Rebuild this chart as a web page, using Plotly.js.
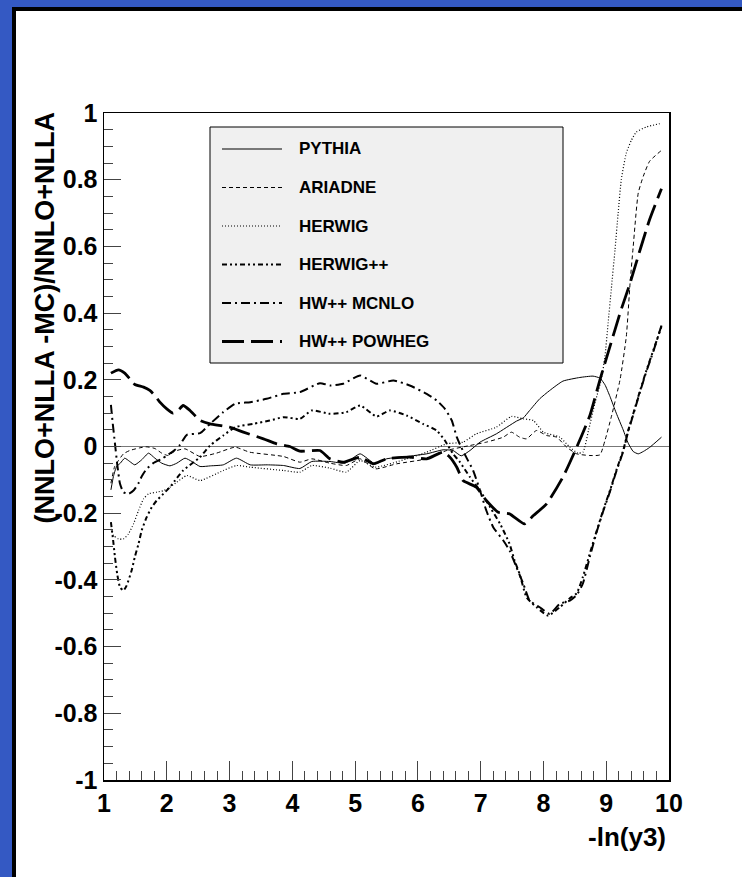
<!DOCTYPE html>
<html>
<head>
<meta charset="utf-8">
<script src="https://cdn.plot.ly/plotly-3.0.1.min.js"></script>
<style>
  html, body { margin: 0; padding: 0; background: #fff; }
  #bg { position: absolute; left: 0; top: 0; width: 742px; height: 877px; background: #3459c3; overflow: hidden; }
  #inner { position: absolute; left: 12px; top: 7px; width: 760px; height: 900px; background: #fff;
           border-left: 4px solid #000; border-top: 4px solid #000; }
  #chart { position: absolute; left: 0; top: 0; width: 742px; height: 877px; }
</style>
</head>
<body>
<div id="bg"><div id="inner"></div></div>
<div id="chart"></div>
<script>
// ---- data ----
const xPythia = [1.11,1.15,1.20,1.26,1.33,1.41,1.49,1.60,1.71,1.81,1.92,2.05,2.16,2.29,2.40,2.53,2.70,2.90,3.11,3.33,3.60,3.86,4.12,4.31,4.60,4.84,5.08,5.32,5.50,5.82,6.14,6.40,6.56,6.69,6.83,6.99,7.25,7.57,7.68,7.78,7.94,8.10,8.31,8.58,8.79,8.90,8.98,9.06,9.16,9.27,9.35,9.43,9.51,9.59,9.69,9.88];
const yPythia = [-0.13,-0.09,-0.06,-0.05,-0.035,-0.045,-0.055,-0.04,-0.02,-0.035,-0.05,-0.058,-0.05,-0.035,-0.045,-0.06,-0.058,-0.055,-0.035,-0.055,-0.055,-0.057,-0.066,-0.045,-0.045,-0.05,-0.022,-0.052,-0.037,-0.03,-0.022,-0.01,-0.012,-0.028,-0.012,0.013,0.038,0.076,0.086,0.108,0.143,0.168,0.196,0.207,0.211,0.205,0.185,0.15,0.10,0.05,0.01,-0.015,-0.022,-0.015,-0.003,0.028];

const xAriadne = [1.11,1.17,1.23,1.31,1.41,1.57,1.68,1.81,1.92,2.02,2.13,2.29,2.53,2.79,3.09,3.32,3.86,4.12,4.31,4.60,4.86,5.08,5.32,5.66,6.14,6.46,6.83,7.09,7.36,7.49,7.62,7.73,7.89,8.05,8.21,8.37,8.53,8.74,8.90,8.98,9.08,9.22,9.32,9.38,9.43,9.51,9.59,9.69,9.88];
const yAriadne = [-0.11,-0.06,-0.042,-0.022,-0.012,-0.004,-0.001,-0.006,-0.02,-0.027,-0.014,-0.007,-0.03,-0.02,-0.002,-0.017,-0.03,-0.047,-0.037,-0.05,-0.057,-0.037,-0.067,-0.052,-0.037,-0.012,0.003,0.013,0.028,0.043,0.028,0.023,0.048,0.033,0.028,-0.002,-0.022,-0.027,-0.025,0.018,0.088,0.20,0.33,0.49,0.60,0.76,0.81,0.855,0.888];

const xHerwig = [1.11,1.15,1.23,1.31,1.39,1.47,1.55,1.63,1.71,1.84,1.95,2.05,2.16,2.32,2.53,2.90,3.11,3.33,3.86,4.12,4.31,4.60,4.86,5.08,5.32,5.82,6.14,6.46,6.72,6.93,7.25,7.49,7.68,7.84,8.00,8.26,8.42,8.55,8.63,8.72,8.82,8.92,8.98,9.03,9.08,9.14,9.19,9.24,9.32,9.40,9.48,9.64,9.85];
const yHerwig = [-0.247,-0.267,-0.277,-0.277,-0.262,-0.232,-0.192,-0.157,-0.142,-0.137,-0.132,-0.122,-0.107,-0.087,-0.102,-0.072,-0.057,-0.062,-0.072,-0.077,-0.057,-0.065,-0.077,-0.042,-0.062,-0.037,-0.017,0.008,0.013,0.038,0.058,0.09,0.083,0.078,0.043,0.028,-0.002,-0.02,-0.017,0.05,0.13,0.20,0.27,0.37,0.47,0.59,0.70,0.80,0.88,0.918,0.943,0.958,0.968];

const xHerwigPP = [1.11,1.14,1.175,1.21,1.255,1.31,1.36,1.44,1.49,1.55,1.60,1.68,1.76,1.84,1.945,2.05,2.13,2.26,2.53,2.69,2.90,3.09,3.38,3.64,3.86,4.12,4.31,4.60,4.86,5.08,5.34,5.55,5.82,6.08,6.30,6.43,6.56,6.67,6.83,6.99,7.15,7.31,7.46,7.54,7.62,7.73,7.89,8.075,8.26,8.42,8.53,8.63,8.74,8.85,8.95,9.06,9.16,9.27,9.35,9.43,9.54,9.64,9.75,9.88];
const yHerwigPP = [-0.227,-0.272,-0.332,-0.382,-0.422,-0.432,-0.417,-0.372,-0.332,-0.292,-0.252,-0.212,-0.182,-0.162,-0.142,-0.122,-0.102,-0.072,-0.032,0.003,0.033,0.058,0.068,0.078,0.088,0.083,0.108,0.098,0.103,0.123,0.09,0.108,0.093,0.068,0.048,0.018,-0.022,-0.047,-0.092,-0.132,-0.182,-0.232,-0.292,-0.342,-0.382,-0.452,-0.482,-0.507,-0.482,-0.455,-0.44,-0.39,-0.32,-0.252,-0.192,-0.132,-0.072,-0.012,0.048,0.098,0.168,0.228,0.288,0.36];

const xMcnlo = [1.11,1.14,1.175,1.21,1.255,1.31,1.39,1.47,1.55,1.60,1.68,1.785,1.92,2.02,2.13,2.21,2.32,2.53,2.69,2.90,3.09,3.33,3.59,3.86,4.12,4.44,4.60,4.81,5.08,5.34,5.61,5.87,6.14,6.30,6.43,6.54,6.62,6.69,6.77,6.88,6.99,7.09,7.20,7.36,7.46,7.57,7.68,7.78,7.94,8.10,8.26,8.42,8.53,8.63,8.74,8.85,8.95,9.06,9.16,9.27,9.35,9.43,9.54,9.64,9.75,9.88];
const yMcnlo = [0.125,0.068,0.008,-0.052,-0.112,-0.137,-0.142,-0.132,-0.11,-0.09,-0.067,-0.05,-0.037,-0.025,-0.01,0.005,0.035,0.04,0.068,0.103,0.128,0.133,0.143,0.158,0.163,0.19,0.183,0.188,0.213,0.188,0.198,0.183,0.158,0.138,0.113,0.078,0.028,-0.002,-0.032,-0.072,-0.132,-0.192,-0.242,-0.282,-0.312,-0.362,-0.412,-0.462,-0.482,-0.502,-0.472,-0.462,-0.445,-0.41,-0.33,-0.255,-0.195,-0.135,-0.075,-0.015,0.045,0.095,0.165,0.225,0.285,0.363];

const xPowheg = [1.11,1.23,1.33,1.41,1.49,1.63,1.73,1.81,1.89,2.00,2.10,2.18,2.26,2.37,2.53,2.69,3.00,3.22,3.54,3.75,3.96,4.12,4.44,4.60,4.81,5.08,5.29,5.50,5.87,6.14,6.40,6.51,6.62,6.72,6.93,7.09,7.28,7.46,7.70,7.84,8.05,8.31,8.53,8.74,8.90,9.06,9.22,9.38,9.54,9.69,9.88];
const yPowheg = [0.22,0.23,0.22,0.203,0.186,0.178,0.168,0.153,0.133,0.113,0.10,0.108,0.123,0.108,0.078,0.068,0.058,0.043,0.023,0.008,0.0,-0.014,-0.012,-0.037,-0.047,-0.032,-0.052,-0.037,-0.032,-0.037,-0.017,-0.032,-0.062,-0.102,-0.122,-0.162,-0.197,-0.202,-0.232,-0.207,-0.172,-0.092,-0.002,0.093,0.20,0.30,0.40,0.49,0.59,0.68,0.773];

const seriesNames = ['PYTHIA','ARIADNE','HERWIG','HERWIG++','HW++ MCNLO','HW++ POWHEG'];
const xTickVals = [1,2,3,4,5,6,7,8,9,10];
const xTickText = ['1','2','3','4','5','6','7','8','9','10'];
const yTickVals = [-1,-0.8,-0.6,-0.4,-0.2,0,0.2,0.4,0.6,0.8,1];
const yTickText = ['-1','-0.8','-0.6','-0.4','-0.2','0','0.2','0.4','0.6','0.8','1'];
const xTitle = '-ln(y3)';
const yTitle = '(NNLO+NLLA -MC)/NNLO+NLLA';

// ---- styles ----
const xs = [xPythia, xAriadne, xHerwig, xHerwigPP, xMcnlo, xPowheg];
const ys = [yPythia, yAriadne, yHerwig, yHerwigPP, yMcnlo, yPowheg];
const dashes = ['solid', '4px,3px', '1px,2px', '5px,3px,2px,3px,2px,3px', '9px,4px,2px,4px', '22px,7px'];
const widths = [1, 1, 1.2, 2, 2, 2.8];

const FONT = 'Liberation Sans, Arial, Helvetica, sans-serif';

const traces = seriesNames.map((n, i) => ({
  type: 'scatter', mode: 'lines', name: n, x: xs[i], y: ys[i],
  line: {color: '#000', width: widths[i], dash: dashes[i], shape: 'spline', smoothing: 0.5},
  showlegend: false, hoverinfo: 'skip'
}));

// legend box geometry (plot area: x 104..669, y 113..780)
const PL = 104, PR = 669, PT = 113, PB = 780;
const px = v => (v - PL) / (PR - PL);
const py = v => (PB - v) / (PB - PT);

const shapes = [{
  type: 'rect', xref: 'paper', yref: 'paper',
  x0: px(210), x1: px(563), y0: py(363), y1: py(127),
  line: {color: '#000', width: 1}, fillcolor: '#f0f0f0', layer: 'above'
}];
const annotations = [];
seriesNames.forEach((n, i) => {
  const yc = 149 + i * 38.5;
  shapes.push({
    type: 'line', xref: 'paper', yref: 'paper',
    x0: px(222), x1: px(282), y0: py(yc), y1: py(yc),
    line: {color: '#000', width: widths[i], dash: dashes[i]}, layer: 'above'
  });
  annotations.push({
    xref: 'paper', yref: 'paper', x: px(297), y: py(yc), xanchor: 'left', yanchor: 'middle',
    text: n, showarrow: false, font: {family: FONT, size: 17, color: '#000', weight: 'bold'}
  });
});
annotations.push({
  xref: 'paper', yref: 'paper', x: 0, y: 1, xanchor: 'center', yanchor: 'top',
  xshift: -60, yshift: 2, textangle: -90, text: yTitle, showarrow: false,
  font: {family: FONT, size: 27, color: '#000', weight: 'bold'}
});
annotations.push({
  xref: 'paper', yref: 'paper', x: 1, y: 0, xanchor: 'right', yanchor: 'top',
  xshift: -1, yshift: -40, text: xTitle, showarrow: false,
  font: {family: FONT, size: 26, color: '#000', weight: 'bold'}
});

const layout = {
  width: 742, height: 877,
  margin: {l: PL, r: 742 - PR, t: PT, b: 877 - PB, pad: 0},
  paper_bgcolor: 'rgba(0,0,0,0)', plot_bgcolor: '#fff',
  showlegend: false,
  font: {family: FONT, color: '#000'},
  xaxis: {
    range: [1, 10], tickmode: 'array', tickvals: xTickVals, ticktext: xTickText,
    ticks: 'inside', ticklen: 19, tickwidth: 1, tickcolor: '#444',
    minor: {tickmode: 'linear', tick0: 1, dtick: 0.2, ticks: 'inside', ticklen: 9.5, tickwidth: 1, tickcolor: '#444', showgrid: false},
    showline: true, linecolor: '#000', linewidth: 1.5, mirror: true,
    showgrid: false, zeroline: false,
    tickfont: {family: FONT, size: 25, color: '#000', weight: 'bold'}
  },
  yaxis: {
    range: [-1, 1], tickmode: 'array', tickvals: yTickVals, ticktext: yTickText,
    ticks: 'inside', ticklen: 17, tickwidth: 1, tickcolor: '#444',
    minor: {tickmode: 'linear', tick0: -1, dtick: 0.05, ticks: 'inside', ticklen: 9, tickwidth: 1, tickcolor: '#444', showgrid: false},
    showline: true, linecolor: '#000', linewidth: 1.5, mirror: true,
    showgrid: false, zeroline: true, zerolinecolor: '#777', zerolinewidth: 1.5,
    tickfont: {family: FONT, size: 25, color: '#000', weight: 'bold'}
  },
  shapes: shapes,
  annotations: annotations
};

Plotly.newPlot('chart', traces, layout, {staticPlot: true, displayModeBar: false});
</script>
</body>
</html>
